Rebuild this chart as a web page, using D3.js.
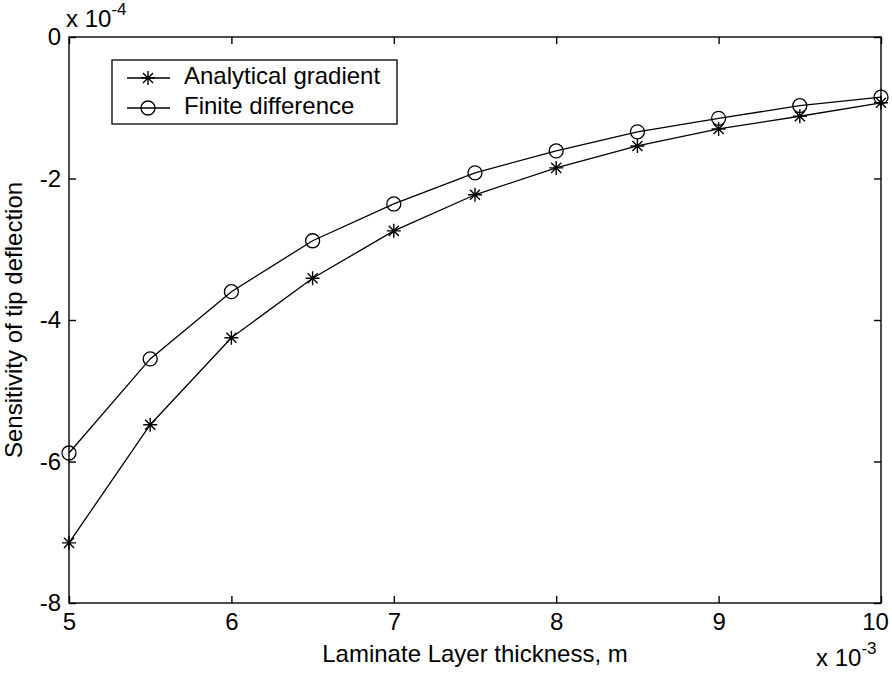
<!DOCTYPE html>
<html>
<head>
<meta charset="utf-8">
<script src="https://cdnjs.cloudflare.com/ajax/libs/d3/7.8.5/d3.min.js"></script>
<style>
  html, body { margin: 0; padding: 0; background: #fff; }
  svg { display: block; font-family: "Liberation Sans", Arial, sans-serif; }
</style>
</head>
<body>
<svg id="chart" width="892" height="673"></svg>
<script>
// Laminate layer thickness (x 10^-3 m)
const thickness = [5, 5.5, 6, 6.5, 7, 7.5, 8, 8.5, 9, 9.5, 10];
// Sensitivity of tip deflection (x 10^-4)
const analytical = [-7.15, -5.48, -4.25, -3.41, -2.74, -2.23, -1.85, -1.54, -1.30, -1.12, -0.93];
const finiteDiff = [-5.88, -4.55, -3.60, -2.88, -2.36, -1.92, -1.61, -1.34, -1.15, -0.97, -0.85];
const xTicks = [5, 6, 7, 8, 9, 10];
const yTicks = [0, -2, -4, -6, -8];
const seriesNames = ["Analytical gradient", "Finite difference"];

const svg = d3.select("#chart");
const m = { left: 69, right: 881, top: 37, bottom: 603 };

const x = d3.scaleLinear().domain([5, 10]).range([m.left, m.right]);
const y = d3.scaleLinear().domain([-8, 0]).range([m.bottom, m.top]);

const tickLen = 7;
const fs = 24;

// Box
svg.append("rect")
  .attr("x", m.left).attr("y", m.top)
  .attr("width", m.right - m.left).attr("height", m.bottom - m.top)
  .attr("fill", "none").attr("stroke", "#000").attr("stroke-width", 1.4);

// Axes with inward ticks
const xAxisB = d3.axisBottom(x).tickValues(xTicks).tickSizeInner(-tickLen).tickSizeOuter(0).tickPadding(10).tickFormat(d3.format("d"));
const gxb = svg.append("g").attr("transform", `translate(0,${m.bottom})`).call(xAxisB);
const xAxisT = d3.axisTop(x).tickValues(xTicks).tickSizeInner(-tickLen).tickSizeOuter(0).tickFormat("");
const gxt = svg.append("g").attr("transform", `translate(0,${m.top})`).call(xAxisT);
const yAxisL = d3.axisLeft(y).tickValues(yTicks).tickSizeInner(-tickLen).tickSizeOuter(0).tickPadding(8).tickFormat(d3.format("d"));
const gyl = svg.append("g").attr("transform", `translate(${m.left},0)`).call(yAxisL);
const yAxisR = d3.axisRight(y).tickValues(yTicks).tickSizeInner(-tickLen).tickSizeOuter(0).tickFormat("");
const gyr = svg.append("g").attr("transform", `translate(${m.right},0)`).call(yAxisR);

[gxb, gxt, gyl, gyr].forEach(g => {
  g.select(".domain").remove();
  g.selectAll("line").attr("stroke", "#000").attr("stroke-width", 1.4);
  g.selectAll("text").attr("fill", "#000").style("font-size", fs + "px").style("font-family", "'Liberation Sans', Arial, sans-serif");
});
gyl.selectAll("text").text(d => d === 0 ? "0" : "-" + Math.abs(d));
// keep the last x tick label inside the page edge
gxb.selectAll(".tick text").filter(d => d === 10).attr("dx", -6);

// Exponent labels
const expX = svg.append("text").attr("x", 816).attr("y", 666).style("font-size", fs + "px");
expX.append("tspan").text("x 10");
expX.append("tspan").attr("dy", -12).style("font-size", "17px").text("-3");
const expY = svg.append("text").attr("x", 66).attr("y", 27).style("font-size", fs + "px");
expY.append("tspan").text("x 10");
expY.append("tspan").attr("dy", -12).style("font-size", "17px").text("-4");

// Axis titles
svg.append("text")
  .attr("x", (m.left + m.right) / 2).attr("y", 656)
  .attr("text-anchor", "middle").attr("dominant-baseline", "middle")
  .style("font-size", fs + "px").text("Laminate Layer thickness, m");
svg.append("text")
  .attr("transform", `translate(16,${(m.top + m.bottom) / 2}) rotate(-90)`)
  .attr("text-anchor", "middle").attr("dominant-baseline", "middle")
  .style("font-size", fs + "px").text("Sensitivity of tip deflection");

// Lines
const line = d3.line().x((d, i) => x(thickness[i])).y(d => y(d));
[analytical, finiteDiff].forEach(vals => {
  svg.append("path").datum(vals).attr("d", line)
    .attr("fill", "none").attr("stroke", "#000").attr("stroke-width", 1.3);
});

// Markers
function asterisk(g, cx, cy, r) {
  const p = d3.path();
  p.moveTo(cx - r, cy); p.lineTo(cx + r, cy);
  p.moveTo(cx, cy - r); p.lineTo(cx, cy + r);
  const k = r * 0.72;
  p.moveTo(cx - k, cy - k); p.lineTo(cx + k, cy + k);
  p.moveTo(cx - k, cy + k); p.lineTo(cx + k, cy - k);
  g.append("path").attr("d", p.toString()).attr("stroke", "#000").attr("stroke-width", 1.4).attr("fill", "none");
}
function circle(g, cx, cy, r) {
  g.append("circle").attr("cx", cx).attr("cy", cy).attr("r", r)
    .attr("fill", "none").attr("stroke", "#000").attr("stroke-width", 1.3);
}
const mk = svg.append("g");
analytical.forEach((v, i) => asterisk(mk, x(thickness[i]), y(v), 7));
finiteDiff.forEach((v, i) => circle(mk, x(thickness[i]), y(v), 7));

// Legend
const lg = svg.append("g");
lg.append("rect").attr("x", 112).attr("y", 60).attr("width", 285).attr("height", 64)
  .attr("fill", "#fff").attr("stroke", "#000").attr("stroke-width", 1.3);
seriesNames.forEach((name, i) => {
  const ly = 78 + i * 30;
  lg.append("line").attr("x1", 127).attr("x2", 170).attr("y1", ly).attr("y2", ly)
    .attr("stroke", "#000").attr("stroke-width", 1.3);
  if (i === 0) asterisk(lg, 148, ly, 7); else circle(lg, 148, ly, 7);
  lg.append("text").attr("x", 184).attr("y", ly).attr("dominant-baseline", "middle")
    .style("font-size", fs + "px").text(name);
});
</script>
</body>
</html>
